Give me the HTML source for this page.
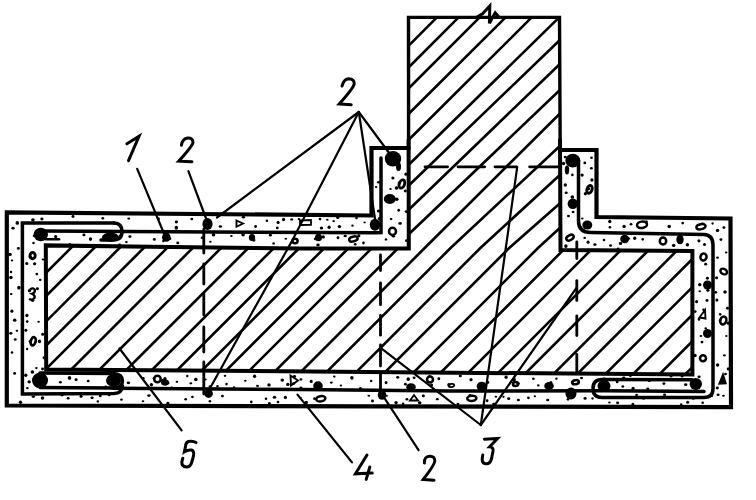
<!DOCTYPE html>
<html><head><meta charset="utf-8"><style>
html,body{margin:0;padding:0;background:#fff;}
svg{display:block;}
</style></head><body>
<svg width="756" height="500" viewBox="0 0 756 500">
<rect width="756" height="500" fill="#fff"/>
<defs><clipPath id="hc"><path d="M408.5 17.4 L559.5 17.4 L560.5 250 L692.4 251 L692.4 374.6 L46.2 369.4 L45.8 245.4 L150 246.8 L300 248.6 L408.8 248.6 Z"/></clipPath></defs>
<g stroke="#000" stroke-linecap="round" stroke-linejoin="miter" stroke-miterlimit="4" fill="none">
<g clip-path="url(#hc)">
<path d="M436.9 17.4 L409.0 45.3" stroke-width="2.6"/>
<path d="M458.6 17.4 L409.0 67.0" stroke-width="2.6"/>
<path d="M479.6 17.4 L409.0 88.0" stroke-width="2.6"/>
<path d="M505.6 17.4 L409.0 113.5" stroke-width="2.6"/>
<path d="M531.7 17.4 L409.0 139.5" stroke-width="2.6"/>
<path d="M559.2 17.4 L409.0 164.5" stroke-width="2.6"/>
<path d="M562.0 38.0 L409.0 185.3" stroke-width="2.6"/>
<path d="M562.0 62.0 L409.0 209.5" stroke-width="2.6"/>
<path d="M562.0 88.0 L409.0 234.0" stroke-width="2.6"/>
<path d="M562.0 111.5 L424.7 248.0 L292.7 380.0" stroke-width="2.6"/>
<path d="M562.0 144.0 L450.6 248.0 L318.6 380.0" stroke-width="2.6"/>
<path d="M562.0 173.0 L480.4 248.0 L348.4 380.0" stroke-width="2.6"/>
<path d="M562.0 201.5 L509.2 248.0 L377.2 380.0" stroke-width="2.6"/>
<path d="M562.0 226.0 L538.0 248.0 L406.0 380.0" stroke-width="2.6"/>
<path d="M-61.1 380.0 L78.9 240.0" stroke-width="2.6"/>
<path d="M-37.9 380.0 L102.1 240.0" stroke-width="2.6"/>
<path d="M-12.5 380.0 L127.5 240.0" stroke-width="2.6"/>
<path d="M11.7 380.0 L151.7 240.0" stroke-width="2.6"/>
<path d="M35.0 380.0 L175.0 240.0" stroke-width="2.6"/>
<path d="M60.7 380.0 L200.7 240.0" stroke-width="2.6"/>
<path d="M89.1 380.0 L229.1 240.0" stroke-width="2.6"/>
<path d="M116.3 380.0 L256.3 240.0" stroke-width="2.6"/>
<path d="M141.9 380.0 L281.9 240.0" stroke-width="2.6"/>
<path d="M167.3 380.0 L307.3 240.0" stroke-width="2.6"/>
<path d="M192.4 380.0 L332.4 240.0" stroke-width="2.6"/>
<path d="M216.7 380.0 L356.7 240.0" stroke-width="2.6"/>
<path d="M240.0 380.0 L380.0 240.0" stroke-width="2.6"/>
<path d="M266.3 380.0 L406.3 240.0" stroke-width="2.6"/>
<path d="M433.3 380.0 L573.3 240.0" stroke-width="2.6"/>
<path d="M461.0 380.0 L601.0 240.0" stroke-width="2.6"/>
<path d="M491.0 380.0 L631.0 240.0" stroke-width="2.6"/>
<path d="M518.8 380.0 L658.8 240.0" stroke-width="2.6"/>
<path d="M547.5 380.0 L687.5 240.0" stroke-width="2.6"/>
<path d="M571.3 380.0 L711.3 240.0" stroke-width="2.6"/>
<path d="M599.5 380.0 L739.5 240.0" stroke-width="2.6"/>
<path d="M627.2 380.0 L767.2 240.0" stroke-width="2.6"/>
<path d="M653.7 380.0 L793.7 240.0" stroke-width="2.6"/>
<path d="M679.5 380.0 L819.5 240.0" stroke-width="2.6"/>
</g>
<path d="M408.5 148.0 L371.5 148.0 L371.5 215.5 L6.8 212.3 L6.8 405.5 L731.0 407.2 L730.5 218.5 L596.5 217.0 L596.5 150.0 L560.0 150.0" fill="none" stroke-width="4.2"/>
<path d="M408.6 150.0 L408.5 17.4 L559.5 17.4 L560.2 150.0" fill="none" stroke-width="3.4"/>
<path d="M408.6 140.0 L408.8 248.6 L300.0 248.6 L150.0 246.8 L45.8 245.4 L46.2 369.4 L692.4 374.6 L692.4 251.0 L560.5 250.0 L560.0 140.0" fill="none" stroke-width="4.0"/>
<path d="M114 222.9 L22.4 222.9 L22.4 394 L114 393.6 Q122 393 122.5 386" fill="none" stroke-width="3.5"/>
<path d="M114 222.9 Q122 223 122 231.5 Q122 240 113 240 L101 240" fill="none" stroke-width="3.5"/>
<ellipse cx="110.5" cy="237.2" rx="8.5" ry="4.6" fill="#000" stroke="none"/>
<path d="M41 231 L376 232.8 L381 232.5 L381 158" fill="none" stroke-width="3.5"/>
<ellipse cx="40.8" cy="234.5" rx="7.2" ry="6.8" fill="#000" stroke="none"/>
<path d="M46 239.2 L59 239.2" fill="none" stroke-width="2.6"/>
<ellipse cx="393.0" cy="158.7" rx="8.2" ry="7.7" fill="#000" stroke="none"/>
<ellipse cx="398.5" cy="166.5" rx="2.5" ry="4.5" fill="#000" stroke="none"/>
<ellipse cx="389.8" cy="199.0" rx="6.0" ry="5.0" fill="#000" stroke="none"/>
<ellipse cx="375.0" cy="224.8" rx="5.2" ry="6.0" fill="#000" stroke="none"/>
<ellipse cx="207.5" cy="224.0" rx="5.1" ry="6.0" fill="#000" stroke="none"/>
<ellipse cx="166.3" cy="237.2" rx="4.3" ry="4.6" fill="#000" stroke="none"/>
<ellipse cx="252.0" cy="237.5" rx="3.2" ry="3.6" fill="#000" stroke="none"/>
<ellipse cx="318.5" cy="237.5" rx="3.5" ry="3.8" fill="#000" stroke="none"/>
<path d="M578.5 160 L578.5 221 Q578.5 232.5 591 232.5 L704 234.5 Q713 235 713 245 L713 388.5 Q713 397.5 704 397.5 L602 397.5 Q593 397.5 593 388.5 Q593 379.5 602 379.5 L692 379.8" fill="none" stroke-width="3.5"/>
<ellipse cx="572.8" cy="160.7" rx="7.5" ry="6.9" fill="#000" stroke="none"/>
<ellipse cx="567.0" cy="170.0" rx="2.2" ry="4.5" fill="#000" stroke="none"/>
<ellipse cx="572.8" cy="203.8" rx="5.2" ry="5.2" fill="#000" stroke="none"/>
<ellipse cx="587.3" cy="225.0" rx="5.0" ry="4.6" fill="#000" stroke="none"/>
<ellipse cx="624.7" cy="239.0" rx="4.5" ry="4.2" fill="#000" stroke="none"/>
<ellipse cx="680.0" cy="239.6" rx="3.7" ry="4.7" fill="#000" stroke="none"/>
<ellipse cx="707.5" cy="285.0" rx="4.5" ry="4.5" fill="#000" stroke="none"/>
<ellipse cx="707.5" cy="333.5" rx="4.5" ry="4.5" fill="#000" stroke="none"/>
<path d="M113 388.2 L300 389.5 L450 391 L604 390.8 L704 391.5" fill="none" stroke-width="3.5"/>
<path d="M40 373 L113 373.5 Q122.5 374 122.5 381 Q122.5 388 113 388 L40 387.5" fill="none" stroke-width="3.5"/>
<ellipse cx="40.0" cy="380.5" rx="8.0" ry="7.8" fill="#000" stroke="none"/>
<ellipse cx="113.5" cy="380.5" rx="7.5" ry="6.5" fill="#000" stroke="none"/>
<ellipse cx="604.0" cy="386.0" rx="6.5" ry="6.0" fill="#000" stroke="none"/>
<ellipse cx="695.8" cy="384.0" rx="6.2" ry="6.0" fill="#000" stroke="none"/>
<ellipse cx="571.0" cy="393.4" rx="5.5" ry="6.0" fill="#000" stroke="none"/>
<ellipse cx="549.0" cy="386.0" rx="4.8" ry="4.0" fill="#000" stroke="none"/>
<ellipse cx="481.7" cy="386.3" rx="5.0" ry="4.6" fill="#000" stroke="none"/>
<ellipse cx="208.6" cy="393.5" rx="4.3" ry="4.4" fill="#000" stroke="none"/>
<ellipse cx="382.0" cy="395.0" rx="4.2" ry="4.8" fill="#000" stroke="none"/>
<ellipse cx="318.0" cy="386.0" rx="4.8" ry="4.7" fill="#000" stroke="none"/>
<ellipse cx="411.0" cy="387.0" rx="4.8" ry="3.8" fill="#000" stroke="none"/>
<ellipse cx="165.0" cy="382.5" rx="4.0" ry="3.0" fill="#000" stroke="none"/>
<line x1="203.8" y1="229.0" x2="203.8" y2="253.0" stroke-width="2.8"/>
<line x1="203.8" y1="264.0" x2="203.8" y2="284.0" stroke-width="2.8"/>
<line x1="203.8" y1="293.0" x2="203.8" y2="315.0" stroke-width="2.8"/>
<line x1="203.8" y1="327.0" x2="203.8" y2="352.0" stroke-width="2.8"/>
<line x1="203.8" y1="362.0" x2="203.8" y2="394.0" stroke-width="2.8"/>
<line x1="380.5" y1="255.0" x2="380.5" y2="270.5" stroke-width="2.8"/>
<line x1="380.5" y1="283.0" x2="380.5" y2="304.7" stroke-width="2.8"/>
<line x1="380.5" y1="315.4" x2="380.5" y2="335.2" stroke-width="2.8"/>
<line x1="380.5" y1="345.0" x2="380.5" y2="366.0" stroke-width="2.8"/>
<line x1="380.5" y1="373.7" x2="380.5" y2="394.0" stroke-width="2.8"/>
<line x1="576.8" y1="242.0" x2="576.8" y2="258.6" stroke-width="2.8"/>
<line x1="576.8" y1="280.6" x2="576.8" y2="300.4" stroke-width="2.8"/>
<line x1="576.8" y1="315.8" x2="576.8" y2="335.6" stroke-width="2.8"/>
<line x1="576.8" y1="354.3" x2="576.8" y2="372.3" stroke-width="2.8"/>
<line x1="425.0" y1="166.8" x2="447.6" y2="166.8" stroke-width="2.8"/>
<line x1="458.0" y1="166.8" x2="484.7" y2="166.8" stroke-width="2.8"/>
<line x1="495.0" y1="166.8" x2="516.4" y2="166.8" stroke-width="2.8"/>
<line x1="529.6" y1="166.8" x2="558.7" y2="166.8" stroke-width="2.8"/>
<line x1="137.2" y1="168.8" x2="165.0" y2="236.0" stroke-width="2.2"/>
<line x1="188.4" y1="171.2" x2="207.0" y2="221.0" stroke-width="2.2"/>
<line x1="358.8" y1="112.0" x2="217.0" y2="217.5" stroke-width="2.2"/>
<path d="M358.8 112.0 L292.5 240.0 L209.6 389.0" fill="none" stroke-width="2.2"/>
<line x1="358.8" y1="112.0" x2="375.5" y2="222.0" stroke-width="2.2"/>
<line x1="358.8" y1="112.0" x2="391.0" y2="155.5" stroke-width="2.2"/>
<line x1="119.5" y1="348.5" x2="181.6" y2="430.4" stroke-width="2.2"/>
<line x1="297.5" y1="394.6" x2="352.0" y2="462.4" stroke-width="2.2"/>
<line x1="382.2" y1="394.6" x2="418.6" y2="450.2" stroke-width="2.2"/>
<line x1="480.8" y1="425.0" x2="380.0" y2="347.3" stroke-width="2.2"/>
<line x1="480.8" y1="425.0" x2="517.2" y2="167.2" stroke-width="2.2"/>
<line x1="480.8" y1="425.0" x2="577.0" y2="287.2" stroke-width="2.2"/>
<path d="M477.5 16.8 L482.5 13.8 L489.8 5.9 L489.4 23.3 L495.2 12.8 L498.5 16.6" fill="none" stroke-width="3.0"/>
<path d="M126.9 143.8 L139 136.3 L128.5 160.7" fill="none" stroke-width="3.0"/>
<path d="M181.4 145.3 Q182.5 138.5 187.7 138 Q193.2 137.8 193 142.5 Q192.5 146 178.7 161.2 L192 161.7" fill="none" stroke-width="3.0"/>
<path d="M342 86 Q344 79 348.6 78.8 Q354.5 78.8 354.2 84 Q353.5 88 339.2 104 L351.2 104.8" fill="none" stroke-width="3.0"/>
<path d="M196 442.6 Q193 440.5 188.4 441.5 Q186 442.5 185.8 445 L184.4 451.8 Q188 449.5 191.5 450 Q194.5 451 193.5 456 L191.8 462 Q190.5 467 186.5 467 Q181.5 466.5 181.8 462 L182.8 458.2" fill="none" stroke-width="3.0"/>
<path d="M367 455 L355.4 473.8 L372.2 473 M369.8 467 L366.2 479.4" fill="none" stroke-width="3.0"/>
<path d="M424.4 463 Q424 456.5 429.6 456.2 Q435 456 434.8 461 Q434.5 465 423.2 479.4 L434 480.2" fill="none" stroke-width="3.0"/>
<path d="M484.4 439.2 L497.6 438.4 L489.6 446.8 Q493.5 447 493 451 L491.5 459 Q490 464 486 463.8 Q482 463.5 482.2 459 L482.8 455" fill="none" stroke-width="3.0"/>
</g>
<g fill="#000"><ellipse cx="14.7" cy="320.2" rx="1.75" ry="1.60"/><ellipse cx="11.9" cy="311.2" rx="1.58" ry="1.62"/><ellipse cx="11.0" cy="272.0" rx="1.25" ry="1.30"/><ellipse cx="17.3" cy="222.9" rx="1.79" ry="1.95"/><ellipse cx="16.9" cy="330.7" rx="1.29" ry="0.98"/><ellipse cx="12.0" cy="260.5" rx="1.22" ry="1.11"/><ellipse cx="14.6" cy="373.4" rx="1.51" ry="1.47"/><ellipse cx="15.2" cy="339.5" rx="1.47" ry="1.25"/><ellipse cx="20.5" cy="402.2" rx="1.70" ry="1.70"/><ellipse cx="13.0" cy="228.2" rx="1.66" ry="1.48"/><ellipse cx="18.9" cy="287.7" rx="1.77" ry="1.86"/><ellipse cx="10.0" cy="254.4" rx="1.75" ry="1.60"/><ellipse cx="10.8" cy="333.3" rx="1.67" ry="1.41"/><ellipse cx="10.9" cy="277.5" rx="1.78" ry="1.81"/><ellipse cx="18.4" cy="248.4" rx="1.54" ry="1.39"/><ellipse cx="12.0" cy="352.6" rx="1.28" ry="1.25"/><ellipse cx="11.2" cy="294.1" rx="1.33" ry="1.12"/><ellipse cx="43.9" cy="357.8" rx="1.38" ry="1.47"/><ellipse cx="29.5" cy="290.7" rx="1.71" ry="1.67"/><ellipse cx="27.4" cy="388.2" rx="1.33" ry="1.12"/><ellipse cx="40.2" cy="279.9" rx="1.38" ry="1.07"/><ellipse cx="27.2" cy="321.6" rx="1.35" ry="1.29"/><ellipse cx="32.6" cy="300.3" rx="1.78" ry="1.63"/><ellipse cx="36.4" cy="368.1" rx="1.31" ry="1.05"/><ellipse cx="30.2" cy="257.1" rx="1.64" ry="1.77"/><ellipse cx="29.2" cy="381.8" rx="1.73" ry="1.66"/><ellipse cx="33.5" cy="243.0" rx="1.22" ry="1.33"/><ellipse cx="30.0" cy="341.6" rx="1.35" ry="1.41"/><ellipse cx="36.8" cy="274.1" rx="1.31" ry="1.31"/><ellipse cx="26.8" cy="263.5" rx="1.54" ry="1.61"/><ellipse cx="42.9" cy="259.5" rx="1.21" ry="1.02"/><ellipse cx="34.0" cy="235.9" rx="1.31" ry="1.15"/><ellipse cx="32.4" cy="372.1" rx="1.79" ry="1.75"/><ellipse cx="38.6" cy="321.8" rx="1.28" ry="0.98"/><ellipse cx="25.8" cy="375.3" rx="1.62" ry="1.76"/><ellipse cx="25.9" cy="330.3" rx="1.49" ry="1.50"/><ellipse cx="26.9" cy="315.6" rx="1.64" ry="1.75"/><ellipse cx="39.5" cy="341.4" rx="1.68" ry="1.79"/><ellipse cx="42.6" cy="368.9" rx="1.45" ry="1.49"/><ellipse cx="37.4" cy="288.7" rx="1.55" ry="1.49"/><ellipse cx="27.1" cy="349.0" rx="1.22" ry="1.17"/><ellipse cx="34.6" cy="263.8" rx="1.62" ry="1.50"/><ellipse cx="37.2" cy="377.0" rx="1.35" ry="1.02"/><ellipse cx="42.7" cy="334.2" rx="1.47" ry="1.56"/><ellipse cx="204.1" cy="225.0" rx="1.32" ry="1.19"/><ellipse cx="321.5" cy="228.0" rx="1.73" ry="1.53"/><ellipse cx="266.9" cy="220.8" rx="1.28" ry="1.18"/><ellipse cx="329.1" cy="227.2" rx="1.63" ry="1.76"/><ellipse cx="191.8" cy="219.0" rx="1.47" ry="1.24"/><ellipse cx="176.4" cy="222.0" rx="1.58" ry="1.45"/><ellipse cx="364.6" cy="222.4" rx="1.24" ry="0.95"/><ellipse cx="337.8" cy="217.5" rx="1.63" ry="1.54"/><ellipse cx="128.7" cy="218.6" rx="1.47" ry="1.12"/><ellipse cx="327.3" cy="219.8" rx="1.28" ry="0.98"/><ellipse cx="278.1" cy="222.4" rx="1.58" ry="1.55"/><ellipse cx="291.7" cy="219.4" rx="1.49" ry="1.21"/><ellipse cx="299.0" cy="219.1" rx="1.36" ry="1.19"/><ellipse cx="220.4" cy="226.5" rx="1.74" ry="1.36"/><ellipse cx="352.5" cy="225.7" rx="1.28" ry="1.16"/><ellipse cx="277.3" cy="227.9" rx="1.43" ry="1.35"/><ellipse cx="339.4" cy="226.6" rx="1.77" ry="1.61"/><ellipse cx="283.6" cy="219.5" rx="1.63" ry="1.69"/><ellipse cx="176.3" cy="227.8" rx="1.79" ry="1.95"/><ellipse cx="255.6" cy="226.5" rx="1.39" ry="1.49"/><ellipse cx="333.7" cy="221.2" rx="1.25" ry="1.13"/><ellipse cx="243.4" cy="217.3" rx="1.69" ry="1.30"/><ellipse cx="320.0" cy="219.1" rx="1.40" ry="1.44"/><ellipse cx="158.4" cy="218.8" rx="1.51" ry="1.51"/><ellipse cx="356.5" cy="218.0" rx="1.33" ry="1.25"/><ellipse cx="41.9" cy="219.1" rx="1.58" ry="1.48"/><ellipse cx="102.8" cy="218.3" rx="1.39" ry="1.23"/><ellipse cx="32.9" cy="219.8" rx="1.78" ry="1.66"/><ellipse cx="73.0" cy="216.5" rx="1.52" ry="1.41"/><ellipse cx="243.1" cy="234.8" rx="1.78" ry="1.66"/><ellipse cx="177.8" cy="242.9" rx="1.54" ry="1.42"/><ellipse cx="270.4" cy="235.2" rx="1.52" ry="1.36"/><ellipse cx="355.2" cy="244.2" rx="1.36" ry="1.25"/><ellipse cx="90.5" cy="239.1" rx="1.69" ry="1.80"/><ellipse cx="202.0" cy="237.8" rx="1.31" ry="1.27"/><ellipse cx="345.2" cy="235.9" rx="1.67" ry="1.26"/><ellipse cx="111.9" cy="236.9" rx="1.61" ry="1.39"/><ellipse cx="163.4" cy="241.0" rx="1.26" ry="1.27"/><ellipse cx="129.9" cy="236.6" rx="1.52" ry="1.37"/><ellipse cx="169.9" cy="238.8" rx="1.52" ry="1.22"/><ellipse cx="253.7" cy="240.1" rx="1.71" ry="1.65"/><ellipse cx="323.3" cy="236.9" rx="1.64" ry="1.70"/><ellipse cx="338.0" cy="237.8" rx="1.39" ry="1.49"/><ellipse cx="119.6" cy="245.0" rx="1.73" ry="1.38"/><ellipse cx="126.4" cy="242.1" rx="1.36" ry="1.06"/><ellipse cx="315.5" cy="238.9" rx="1.67" ry="1.33"/><ellipse cx="55.7" cy="236.6" rx="1.61" ry="1.72"/><ellipse cx="358.9" cy="235.7" rx="1.50" ry="1.53"/><ellipse cx="210.4" cy="241.7" rx="1.31" ry="1.02"/><ellipse cx="83.9" cy="234.9" rx="1.53" ry="1.42"/><ellipse cx="231.4" cy="236.0" rx="1.31" ry="1.08"/><ellipse cx="318.0" cy="244.9" rx="1.76" ry="1.38"/><ellipse cx="69.8" cy="244.5" rx="1.48" ry="1.50"/><ellipse cx="154.3" cy="239.4" rx="1.51" ry="1.36"/><ellipse cx="273.6" cy="243.4" rx="1.31" ry="1.19"/><ellipse cx="285.8" cy="238.8" rx="1.32" ry="1.06"/><ellipse cx="213.5" cy="234.7" rx="1.74" ry="1.79"/><ellipse cx="363.5" cy="243.0" rx="1.35" ry="1.45"/><ellipse cx="378.5" cy="210.9" rx="1.69" ry="1.51"/><ellipse cx="379.4" cy="218.7" rx="1.62" ry="1.65"/><ellipse cx="378.6" cy="182.2" rx="1.63" ry="1.27"/><ellipse cx="376.1" cy="187.1" rx="1.21" ry="1.05"/><ellipse cx="398.7" cy="210.3" rx="1.34" ry="1.45"/><ellipse cx="399.3" cy="183.1" rx="1.60" ry="1.52"/><ellipse cx="396.5" cy="188.0" rx="1.80" ry="1.75"/><ellipse cx="400.1" cy="223.4" rx="1.79" ry="1.36"/><ellipse cx="390.5" cy="189.1" rx="1.23" ry="1.01"/><ellipse cx="393.1" cy="160.4" rx="1.35" ry="1.44"/><ellipse cx="396.8" cy="199.2" rx="1.78" ry="1.69"/><ellipse cx="406.4" cy="211.6" rx="1.69" ry="1.31"/><ellipse cx="386.0" cy="239.4" rx="1.30" ry="1.19"/><ellipse cx="388.6" cy="198.1" rx="1.57" ry="1.21"/><ellipse cx="405.3" cy="191.0" rx="1.52" ry="1.45"/><ellipse cx="392.9" cy="178.1" rx="1.59" ry="1.51"/><ellipse cx="391.1" cy="219.1" rx="1.38" ry="1.04"/><ellipse cx="390.3" cy="155.1" rx="1.29" ry="1.31"/><ellipse cx="393.4" cy="236.3" rx="1.65" ry="1.27"/><ellipse cx="406.3" cy="240.7" rx="1.24" ry="1.33"/><ellipse cx="405.9" cy="174.2" rx="1.51" ry="1.63"/><ellipse cx="572.3" cy="197.0" rx="1.79" ry="1.85"/><ellipse cx="570.6" cy="163.0" rx="1.57" ry="1.43"/><ellipse cx="565.2" cy="157.0" rx="1.52" ry="1.20"/><ellipse cx="568.5" cy="216.1" rx="1.47" ry="1.24"/><ellipse cx="573.0" cy="203.0" rx="1.80" ry="1.95"/><ellipse cx="572.4" cy="174.9" rx="1.27" ry="1.35"/><ellipse cx="573.1" cy="212.0" rx="1.42" ry="1.20"/><ellipse cx="565.9" cy="246.1" rx="1.75" ry="1.85"/><ellipse cx="566.2" cy="192.8" rx="1.57" ry="1.24"/><ellipse cx="565.3" cy="185.0" rx="1.65" ry="1.72"/><ellipse cx="563.5" cy="163.5" rx="1.69" ry="1.63"/><ellipse cx="591.4" cy="168.2" rx="1.45" ry="1.22"/><ellipse cx="591.9" cy="180.0" rx="1.59" ry="1.75"/><ellipse cx="585.4" cy="193.7" rx="1.65" ry="1.77"/><ellipse cx="582.3" cy="218.5" rx="1.25" ry="0.97"/><ellipse cx="588.6" cy="188.8" rx="1.61" ry="1.38"/><ellipse cx="591.5" cy="157.8" rx="1.33" ry="1.30"/><ellipse cx="582.1" cy="175.1" rx="1.63" ry="1.62"/><ellipse cx="584.8" cy="162.9" rx="1.41" ry="1.42"/><ellipse cx="646.3" cy="221.7" rx="1.63" ry="1.54"/><ellipse cx="717.5" cy="230.4" rx="1.75" ry="1.58"/><ellipse cx="702.6" cy="223.7" rx="1.39" ry="1.24"/><ellipse cx="631.0" cy="224.3" rx="1.42" ry="1.24"/><ellipse cx="624.1" cy="226.4" rx="1.68" ry="1.58"/><ellipse cx="712.6" cy="223.5" rx="1.21" ry="1.13"/><ellipse cx="669.2" cy="226.5" rx="1.78" ry="1.74"/><ellipse cx="609.8" cy="221.4" rx="1.64" ry="1.75"/><ellipse cx="609.9" cy="227.2" rx="1.29" ry="1.30"/><ellipse cx="682.7" cy="223.1" rx="1.33" ry="1.36"/><ellipse cx="723.9" cy="227.6" rx="1.50" ry="1.40"/><ellipse cx="673.7" cy="245.4" rx="1.75" ry="1.56"/><ellipse cx="687.4" cy="244.8" rx="1.71" ry="1.77"/><ellipse cx="704.5" cy="244.5" rx="1.51" ry="1.51"/><ellipse cx="634.7" cy="238.3" rx="1.64" ry="1.80"/><ellipse cx="628.8" cy="238.6" rx="1.32" ry="1.19"/><ellipse cx="618.0" cy="248.6" rx="1.24" ry="1.06"/><ellipse cx="594.9" cy="244.6" rx="1.67" ry="1.35"/><ellipse cx="588.1" cy="242.2" rx="1.55" ry="1.66"/><ellipse cx="584.7" cy="237.9" rx="1.31" ry="1.08"/><ellipse cx="610.6" cy="245.5" rx="1.56" ry="1.29"/><ellipse cx="604.0" cy="240.0" rx="1.30" ry="1.32"/><ellipse cx="620.5" cy="243.4" rx="1.69" ry="1.55"/><ellipse cx="698.9" cy="240.8" rx="1.53" ry="1.66"/><ellipse cx="642.7" cy="239.3" rx="1.23" ry="1.33"/><ellipse cx="707.0" cy="300.5" rx="1.52" ry="1.41"/><ellipse cx="699.1" cy="376.8" rx="1.59" ry="1.33"/><ellipse cx="695.2" cy="311.6" rx="1.42" ry="1.46"/><ellipse cx="705.7" cy="328.4" rx="1.29" ry="1.04"/><ellipse cx="699.8" cy="284.7" rx="1.72" ry="1.60"/><ellipse cx="699.0" cy="319.4" rx="1.29" ry="1.32"/><ellipse cx="695.0" cy="355.5" rx="1.71" ry="1.77"/><ellipse cx="705.7" cy="264.2" rx="1.49" ry="1.36"/><ellipse cx="707.9" cy="290.3" rx="1.67" ry="1.50"/><ellipse cx="707.4" cy="278.3" rx="1.53" ry="1.43"/><ellipse cx="699.7" cy="291.2" rx="1.25" ry="1.07"/><ellipse cx="702.0" cy="342.1" rx="1.42" ry="1.40"/><ellipse cx="696.6" cy="301.7" rx="1.48" ry="1.61"/><ellipse cx="707.4" cy="334.4" rx="1.21" ry="1.06"/><ellipse cx="703.5" cy="309.7" rx="1.21" ry="1.32"/><ellipse cx="700.9" cy="336.0" rx="1.35" ry="1.11"/><ellipse cx="725.0" cy="292.0" rx="1.77" ry="1.67"/><ellipse cx="726.2" cy="252.4" rx="1.28" ry="1.01"/><ellipse cx="724.3" cy="355.3" rx="1.31" ry="1.17"/><ellipse cx="726.4" cy="336.0" rx="1.25" ry="1.04"/><ellipse cx="717.5" cy="257.7" rx="1.44" ry="1.12"/><ellipse cx="727.5" cy="308.3" rx="1.51" ry="1.47"/><ellipse cx="725.5" cy="374.1" rx="1.43" ry="1.24"/><ellipse cx="720.9" cy="239.6" rx="1.44" ry="1.43"/><ellipse cx="728.3" cy="368.9" rx="1.60" ry="1.54"/><ellipse cx="715.7" cy="292.3" rx="1.41" ry="1.37"/><ellipse cx="716.9" cy="300.1" rx="1.51" ry="1.54"/><ellipse cx="717.6" cy="365.0" rx="1.74" ry="1.64"/><ellipse cx="720.1" cy="320.6" rx="1.29" ry="1.28"/><ellipse cx="728.3" cy="323.2" rx="1.63" ry="1.70"/><ellipse cx="718.1" cy="394.8" rx="1.58" ry="1.29"/><ellipse cx="716.6" cy="277.8" rx="1.55" ry="1.54"/><ellipse cx="720.2" cy="314.3" rx="1.27" ry="1.39"/><ellipse cx="717.3" cy="388.0" rx="1.53" ry="1.44"/><ellipse cx="408.2" cy="379.1" rx="1.75" ry="1.92"/><ellipse cx="573.0" cy="383.6" rx="1.27" ry="1.32"/><ellipse cx="234.0" cy="387.6" rx="1.34" ry="1.28"/><ellipse cx="581.5" cy="378.0" rx="1.53" ry="1.19"/><ellipse cx="69.5" cy="377.9" rx="1.79" ry="1.93"/><ellipse cx="471.0" cy="379.7" rx="1.60" ry="1.62"/><ellipse cx="293.6" cy="383.5" rx="1.68" ry="1.27"/><ellipse cx="176.9" cy="381.8" rx="1.29" ry="1.14"/><ellipse cx="414.1" cy="377.8" rx="1.51" ry="1.27"/><ellipse cx="460.3" cy="376.0" rx="1.60" ry="1.28"/><ellipse cx="663.9" cy="383.6" rx="1.48" ry="1.32"/><ellipse cx="448.9" cy="384.8" rx="1.65" ry="1.68"/><ellipse cx="360.4" cy="388.9" rx="1.70" ry="1.79"/><ellipse cx="311.2" cy="381.4" rx="1.54" ry="1.64"/><ellipse cx="386.1" cy="382.6" rx="1.46" ry="1.56"/><ellipse cx="254.6" cy="376.2" rx="1.64" ry="1.74"/><ellipse cx="518.2" cy="383.6" rx="1.65" ry="1.41"/><ellipse cx="429.4" cy="376.4" rx="1.27" ry="1.16"/><ellipse cx="371.2" cy="380.9" rx="1.23" ry="1.22"/><ellipse cx="245.3" cy="380.8" rx="1.34" ry="1.04"/><ellipse cx="633.1" cy="388.5" rx="1.60" ry="1.68"/><ellipse cx="319.1" cy="386.4" rx="1.33" ry="1.35"/><ellipse cx="412.3" cy="387.7" rx="1.26" ry="1.29"/><ellipse cx="128.4" cy="382.8" rx="1.77" ry="1.33"/><ellipse cx="205.4" cy="379.5" rx="1.39" ry="1.08"/><ellipse cx="622.8" cy="386.5" rx="1.44" ry="1.26"/><ellipse cx="69.0" cy="387.6" rx="1.38" ry="1.28"/><ellipse cx="647.7" cy="388.7" rx="1.48" ry="1.22"/><ellipse cx="623.8" cy="378.1" rx="1.70" ry="1.49"/><ellipse cx="351.9" cy="377.8" rx="1.73" ry="1.90"/><ellipse cx="171.8" cy="387.4" rx="1.23" ry="0.97"/><ellipse cx="514.2" cy="379.7" rx="1.74" ry="1.83"/><ellipse cx="506.1" cy="377.3" rx="1.62" ry="1.74"/><ellipse cx="334.3" cy="376.6" rx="1.33" ry="1.14"/><ellipse cx="165.0" cy="378.7" rx="1.60" ry="1.64"/><ellipse cx="287.8" cy="384.4" rx="1.73" ry="1.66"/><ellipse cx="195.8" cy="379.6" rx="1.76" ry="1.73"/><ellipse cx="226.5" cy="384.1" rx="1.25" ry="1.37"/><ellipse cx="331.3" cy="382.6" rx="1.52" ry="1.16"/><ellipse cx="209.8" cy="386.3" rx="1.25" ry="1.06"/><ellipse cx="533.4" cy="378.8" rx="1.37" ry="1.29"/><ellipse cx="682.1" cy="376.0" rx="1.48" ry="1.50"/><ellipse cx="405.4" cy="384.2" rx="1.42" ry="1.39"/><ellipse cx="550.9" cy="382.5" rx="1.50" ry="1.57"/><ellipse cx="487.6" cy="382.5" rx="1.77" ry="1.44"/><ellipse cx="438.8" cy="378.7" rx="1.46" ry="1.49"/><ellipse cx="190.8" cy="383.3" rx="1.50" ry="1.14"/><ellipse cx="431.6" cy="385.1" rx="1.54" ry="1.63"/><ellipse cx="60.4" cy="382.2" rx="1.46" ry="1.32"/><ellipse cx="217.5" cy="386.3" rx="1.24" ry="1.33"/><ellipse cx="556.4" cy="378.7" rx="1.29" ry="1.11"/><ellipse cx="76.1" cy="379.7" rx="1.57" ry="1.47"/><ellipse cx="105.7" cy="386.6" rx="1.30" ry="1.09"/><ellipse cx="151.4" cy="384.8" rx="1.70" ry="1.74"/><ellipse cx="88.2" cy="381.0" rx="1.42" ry="1.17"/><ellipse cx="671.1" cy="376.1" rx="1.49" ry="1.52"/><ellipse cx="340.9" cy="385.6" rx="1.22" ry="1.02"/><ellipse cx="300.9" cy="379.5" rx="1.45" ry="1.13"/><ellipse cx="538.3" cy="385.4" rx="1.34" ry="1.12"/><ellipse cx="282.3" cy="380.1" rx="1.79" ry="1.72"/><ellipse cx="269.0" cy="384.9" rx="1.72" ry="1.64"/><ellipse cx="617.2" cy="381.7" rx="1.44" ry="1.50"/><ellipse cx="154.0" cy="378.2" rx="1.33" ry="1.21"/><ellipse cx="685.7" cy="384.7" rx="1.72" ry="1.41"/><ellipse cx="294.5" cy="376.5" rx="1.61" ry="1.42"/><ellipse cx="225.0" cy="375.8" rx="1.31" ry="1.10"/><ellipse cx="300.9" cy="388.0" rx="1.63" ry="1.38"/><ellipse cx="649.4" cy="380.4" rx="1.66" ry="1.66"/><ellipse cx="630.4" cy="375.8" rx="1.39" ry="1.23"/><ellipse cx="257.5" cy="385.9" rx="1.51" ry="1.16"/><ellipse cx="397.7" cy="377.3" rx="1.62" ry="1.37"/><ellipse cx="143.3" cy="378.3" rx="1.37" ry="1.37"/><ellipse cx="604.1" cy="378.6" rx="1.38" ry="1.20"/><ellipse cx="187.3" cy="376.0" rx="1.21" ry="1.18"/><ellipse cx="478.8" cy="387.9" rx="1.33" ry="1.32"/><ellipse cx="493.9" cy="404.1" rx="1.72" ry="1.43"/><ellipse cx="470.0" cy="395.4" rx="1.46" ry="1.29"/><ellipse cx="68.2" cy="398.3" rx="1.40" ry="1.29"/><ellipse cx="222.4" cy="396.1" rx="1.44" ry="1.32"/><ellipse cx="143.0" cy="401.2" rx="1.34" ry="1.05"/><ellipse cx="266.0" cy="398.7" rx="1.29" ry="1.23"/><ellipse cx="518.4" cy="400.0" rx="1.62" ry="1.23"/><ellipse cx="300.7" cy="398.1" rx="1.24" ry="1.10"/><ellipse cx="437.3" cy="399.2" rx="1.40" ry="1.17"/><ellipse cx="42.5" cy="398.0" rx="1.74" ry="1.64"/><ellipse cx="209.9" cy="401.2" rx="1.31" ry="1.20"/><ellipse cx="457.9" cy="404.0" rx="1.42" ry="1.35"/><ellipse cx="687.6" cy="402.2" rx="1.58" ry="1.52"/><ellipse cx="314.5" cy="398.7" rx="1.37" ry="1.42"/><ellipse cx="643.6" cy="398.3" rx="1.75" ry="1.33"/><ellipse cx="121.4" cy="399.6" rx="1.39" ry="1.21"/><ellipse cx="711.8" cy="396.0" rx="1.32" ry="1.09"/><ellipse cx="503.5" cy="396.8" rx="1.20" ry="1.13"/><ellipse cx="372.5" cy="401.0" rx="1.53" ry="1.48"/><ellipse cx="419.7" cy="402.8" rx="1.78" ry="1.54"/><ellipse cx="269.4" cy="403.4" rx="1.39" ry="1.39"/><ellipse cx="702.7" cy="402.7" rx="1.30" ry="1.25"/><ellipse cx="285.4" cy="397.4" rx="1.65" ry="1.55"/><ellipse cx="192.4" cy="397.0" rx="1.39" ry="1.13"/><ellipse cx="386.6" cy="395.8" rx="1.24" ry="0.96"/><ellipse cx="97.8" cy="401.5" rx="1.27" ry="1.15"/><ellipse cx="568.0" cy="399.3" rx="1.30" ry="1.37"/><ellipse cx="636.6" cy="395.0" rx="1.35" ry="1.25"/><ellipse cx="585.1" cy="398.4" rx="1.63" ry="1.37"/><ellipse cx="528.4" cy="397.8" rx="1.40" ry="1.42"/><ellipse cx="617.6" cy="402.8" rx="1.54" ry="1.38"/><ellipse cx="609.4" cy="402.5" rx="1.28" ry="1.12"/><ellipse cx="495.9" cy="396.8" rx="1.31" ry="0.99"/><ellipse cx="508.7" cy="398.7" rx="1.58" ry="1.40"/><ellipse cx="681.2" cy="404.4" rx="1.23" ry="1.23"/><ellipse cx="109.1" cy="394.9" rx="1.37" ry="1.38"/><ellipse cx="723.5" cy="395.7" rx="1.40" ry="1.06"/><ellipse cx="406.9" cy="399.3" rx="1.42" ry="1.22"/><ellipse cx="148.9" cy="395.6" rx="1.76" ry="1.47"/><ellipse cx="368.8" cy="395.7" rx="1.39" ry="1.06"/><ellipse cx="423.3" cy="395.9" rx="1.58" ry="1.33"/><ellipse cx="185.7" cy="399.3" rx="1.42" ry="1.19"/><ellipse cx="62.0" cy="395.1" rx="1.74" ry="1.49"/><ellipse cx="81.1" cy="396.3" rx="1.49" ry="1.64"/><ellipse cx="167.9" cy="403.2" rx="1.49" ry="1.33"/><ellipse cx="592.5" cy="398.5" rx="1.23" ry="1.16"/><ellipse cx="487.1" cy="400.7" rx="1.37" ry="1.47"/><ellipse cx="632.9" cy="404.4" rx="1.47" ry="1.53"/><ellipse cx="534.9" cy="396.3" rx="1.22" ry="0.98"/><ellipse cx="278.0" cy="402.0" rx="1.39" ry="1.29"/><ellipse cx="33.4" cy="396.6" rx="1.78" ry="1.34"/><ellipse cx="396.1" cy="402.6" rx="1.68" ry="1.69"/><ellipse cx="306.3" cy="402.5" rx="1.70" ry="1.73"/><ellipse cx="693.2" cy="398.5" rx="1.62" ry="1.36"/><ellipse cx="664.6" cy="394.7" rx="1.55" ry="1.28"/><ellipse cx="274.5" cy="397.3" rx="1.74" ry="1.50"/><ellipse cx="92.1" cy="397.8" rx="1.64" ry="1.36"/><ellipse cx="547.7" cy="400.0" rx="1.61" ry="1.31"/><ellipse cx="100.3" cy="395.9" rx="1.41" ry="1.27"/><ellipse cx="403.1" cy="404.0" rx="1.32" ry="1.40"/><ellipse cx="251.3" cy="402.0" rx="1.27" ry="1.39"/></g>
<g stroke="#000" fill="none">
<ellipse cx="642.0" cy="224.8" rx="5.0" ry="3.2" transform="rotate(-8 642.0 224.8)" fill="none" stroke-width="2.5"/>
<ellipse cx="701.0" cy="226.7" rx="4.6" ry="2.5" transform="rotate(-12 701.0 226.7)" fill="none" stroke-width="2.5"/>
<ellipse cx="663.0" cy="241.0" rx="3.2" ry="3.5" transform="rotate(0 663.0 241.0)" fill="none" stroke-width="2.5"/>
<ellipse cx="570.0" cy="237.7" rx="4.0" ry="2.4" transform="rotate(-30 570.0 237.7)" fill="none" stroke-width="2.5"/>
<ellipse cx="401.9" cy="184.0" rx="2.6" ry="4.3" transform="rotate(20 401.9 184.0)" fill="none" stroke-width="2.9"/>
<ellipse cx="589.5" cy="189.4" rx="2.5" ry="4.0" transform="rotate(20 589.5 189.4)" fill="none" stroke-width="2.9"/>
<ellipse cx="392.5" cy="231.4" rx="3.5" ry="3.6" transform="rotate(0 392.5 231.4)" fill="none" stroke-width="2.5"/>
<ellipse cx="353.4" cy="239.0" rx="4.3" ry="2.4" transform="rotate(-15 353.4 239.0)" fill="none" stroke-width="2.5"/>
<ellipse cx="295.0" cy="241.0" rx="2.6" ry="2.2" transform="rotate(0 295.0 241.0)" fill="none" stroke-width="2.5"/>
<ellipse cx="471.8" cy="398.3" rx="4.6" ry="2.6" transform="rotate(-5 471.8 398.3)" fill="none" stroke-width="2.5"/>
<ellipse cx="320.8" cy="398.8" rx="4.6" ry="2.6" transform="rotate(-10 320.8 398.8)" fill="none" stroke-width="2.5"/>
<ellipse cx="575.5" cy="382.2" rx="3.4" ry="2.0" transform="rotate(-10 575.5 382.2)" fill="none" stroke-width="2.5"/>
<ellipse cx="515.5" cy="384.0" rx="2.6" ry="2.0" transform="rotate(0 515.5 384.0)" fill="none" stroke-width="2.5"/>
<ellipse cx="157.4" cy="379.0" rx="3.3" ry="3.3" transform="rotate(0 157.4 379.0)" fill="none" stroke-width="2.5"/>
<ellipse cx="430.0" cy="379.5" rx="3.0" ry="3.0" transform="rotate(0 430.0 379.5)" fill="none" stroke-width="2.5"/>
<ellipse cx="451.5" cy="385.5" rx="2.8" ry="1.6" transform="rotate(-10 451.5 385.5)" fill="none" stroke-width="1.8"/>
<ellipse cx="33.2" cy="341.3" rx="2.4" ry="4.2" transform="rotate(15 33.2 341.3)" fill="none" stroke-width="2.7"/>
<ellipse cx="32.6" cy="255.6" rx="2.6" ry="3.1" transform="rotate(0 32.6 255.6)" fill="none" stroke-width="2.9"/>
<ellipse cx="703.5" cy="257.0" rx="3.0" ry="3.5" transform="rotate(20 703.5 257.0)" fill="none" stroke-width="2.5"/>
<ellipse cx="723.7" cy="271.5" rx="3.5" ry="2.6" transform="rotate(30 723.7 271.5)" fill="none" stroke-width="2.5"/>
<ellipse cx="723.3" cy="320.5" rx="3.0" ry="4.0" transform="rotate(20 723.3 320.5)" fill="none" stroke-width="2.5"/>
<ellipse cx="703.0" cy="358.2" rx="3.0" ry="3.0" transform="rotate(0 703.0 358.2)" fill="none" stroke-width="2.5"/>
<path d="M300 220.5 L311 220 L311 224.8 L300 225 Z" stroke-width="1.8"/>
<path d="M30 289.5 Q33.5 287 35 290 Q35 293 32 293.8 Q35.5 295.5 34.5 298 Q32 300.5 29 299" stroke-width="2.3"/>
<path d="M290.5 375.5 L298.0 380.5 L291.0 385.5 Z" fill="none" stroke-width="1.9"/>
<path d="M410.0 400.5 L414.0 395.0 L418.0 400.5 Z" fill="none" stroke-width="1.9"/>
<path d="M236.5 220.5 L243.0 223.5 L236.5 226.8 Z" fill="none" stroke-width="1.9"/>
<path d="M699.5 317.5 L705.0 310.0 L705.5 318.5 Z" fill="none" stroke-width="1.9"/>
<path d="M719 384 L723 374 L726 383.5 Z" fill="#000" stroke-width="1.5"/>
<path d="M161 380 Q166 378 169 383 Q166 386 162 384" fill="#000" stroke-width="1.2"/>
</g>
</svg>
</body></html>
